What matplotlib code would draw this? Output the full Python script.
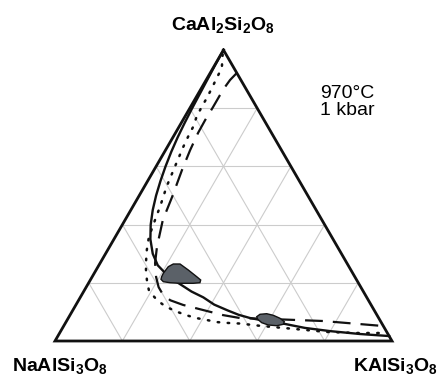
import numpy as np
import matplotlib
matplotlib.use("Agg")
import matplotlib.pyplot as plt

plt.rcParams['font.family'] = ['Liberation Sans', 'DejaVu Sans']
plt.rcParams['mathtext.fontset'] = 'custom'
plt.rcParams['mathtext.rm'] = 'Liberation Sans'
plt.rcParams['mathtext.bf'] = 'Liberation Sans:bold'

# ternary data: An (CaAl2Si2O8) and Or (KAlSi3O8) fractions, Ab = 1 - An - Or
solid_an = [1.00, 0.95, 0.90, 0.85, 0.80, 0.75, 0.70, 0.65, 0.60, 0.55, 0.50, 0.45, 0.40,
            0.35, 0.30, 0.26, 0.23, 0.20, 0.17, 0.15, 0.125, 0.105, 0.09, 0.079, 0.07, 0.062,
            0.053, 0.045, 0.034, 0.024, 0.017]
solid_or = [0.0, 0.001, 0.003, 0.005, 0.007, 0.010, 0.014, 0.020, 0.028, 0.038, 0.050, 0.065,
            0.084, 0.108, 0.140, 0.175, 0.215, 0.265, 0.320, 0.365, 0.41, 0.46, 0.50, 0.539,
            0.585, 0.637, 0.68, 0.719, 0.799, 0.893, 0.983]

dash_an = [0.921, 0.897, 0.873, 0.845, 0.804, 0.759, 0.715, 0.656, 0.588, 0.495, 0.416, 0.371,
           0.323, 0.268, 0.220, 0.185, 0.160, 0.140, 0.124, 0.1065, 0.089, 0.079, 0.074,
           0.0687, 0.0515]
dash_or = [0.079, 0.071, 0.068, 0.067, 0.067, 0.066, 0.067, 0.073, 0.083, 0.100, 0.112, 0.126,
           0.141, 0.163, 0.190, 0.215, 0.240, 0.272, 0.318, 0.386, 0.454, 0.509, 0.637,
           0.761, 0.948]

dot_an = [0.985, 0.938, 0.904, 0.869, 0.835, 0.804, 0.770, 0.735, 0.701, 0.668, 0.601, 0.530,
          0.4615, 0.426, 0.357, 0.313, 0.271, 0.244, 0.206, 0.172, 0.141, 0.120, 0.103, 0.089,
          0.079, 0.072, 0.065, 0.062, 0.060, 0.0515, 0.045, 0.031, 0.0275, 0.0275]
dot_or = [0.005, 0.026, 0.028, 0.031, 0.033, 0.033, 0.035, 0.042, 0.044, 0.047, 0.056, 0.066,
          0.081, 0.087, 0.100, 0.116, 0.1345, 0.148, 0.170, 0.193, 0.232, 0.266, 0.305, 0.344,
          0.379, 0.415, 0.448, 0.482, 0.519, 0.588, 0.654, 0.792, 0.885, 0.951]

blob1_an = [0.221, 0.2326, 0.2553, 0.2646, 0.2646, 0.244, 0.221, 0.2096, 0.2003, 0.1983,
            0.1983, 0.2003, 0.2038, 0.212]
blob1_or = [0.206, 0.205, 0.2085, 0.2187, 0.2387, 0.2735, 0.310, 0.3275, 0.330, 0.311,
            0.2717, 0.241, 0.2195, 0.2085]

blob2_an = [0.0835, 0.0918, 0.0938, 0.0883, 0.078, 0.0663, 0.0574, 0.0526, 0.055, 0.0629, 0.0746]
blob2_or = [0.5568, 0.5624, 0.5813, 0.6037, 0.6287, 0.6473, 0.6487, 0.6316, 0.6055, 0.582, 0.5642]

grid_steps = [0.2, 0.4, 0.6, 0.8]

H = np.sqrt(3) / 2


def to_xy(an, orr):
    an = np.asarray(an, dtype=float)
    orr = np.asarray(orr, dtype=float)
    return orr + an / 2, an * H


fig = plt.figure(figsize=(4.39, 3.81), dpi=100)
ax = fig.add_axes([55 / 439, 40 / 381, 337 / 439, 291 / 381])
ax.set_xlim(0, 1)
ax.set_ylim(0, H)
ax.axis('off')

# grid
gc = '#cccccc'
for t in grid_steps:
    x, y = to_xy([t, t], [0, 1 - t])
    ax.plot(x, y, color=gc, lw=0.8, zorder=1)
    x, y = to_xy([0, 1 - t], [t, t])
    ax.plot(x, y, color=gc, lw=0.8, zorder=1)
    x, y = to_xy([0, 1 - t], [1 - t, 0])
    ax.plot(x, y, color=gc, lw=0.8, zorder=1)

# curves
x, y = to_xy(solid_an, solid_or)
ax.plot(x, y, color='#111111', lw=1.7, zorder=3, clip_on=False, solid_joinstyle='round')
x, y = to_xy(dash_an, dash_or)
ax.plot(x, y, color='#111111', lw=1.6, dashes=(8, 4.5), zorder=3, clip_on=False)
x, y = to_xy(dot_an, dot_or)
ax.plot(x, y, color='#111111', lw=1.8, dashes=(0.6, 3.4), dash_capstyle='round', zorder=3,
        clip_on=False)

# phase fields
for ban, bor in [(blob1_an, blob1_or), (blob2_an, blob2_or)]:
    x, y = to_xy(ban, bor)
    ax.fill(x, y, facecolor='#5b6168', edgecolor='#111111', lw=1.0, zorder=4)

# triangle outline
x, y = to_xy([1, 0, 0, 1], [0, 0, 1, 0])
ax.plot(x, y, color='#111111', lw=2.0, zorder=5, clip_on=False, solid_joinstyle='miter')

# labels
fig.text(223 / 439, 1 - 25 / 381, r'$\mathbf{CaAl_2Si_2O_8}$', ha='center', va='center', fontsize=14)
fig.text(60 / 439, 1 - 366 / 381, r'$\mathbf{NaAlSi_3O_8}$', ha='center', va='center', fontsize=14)
fig.text(395 / 439, 1 - 366 / 381, r'$\mathbf{KAlSi_3O_8}$', ha='center', va='center', fontsize=14)
fig.text(347 / 439, 1 - 102 / 381, '970°C\n1 kbar', ha='center', va='center', fontsize=14,
         linespacing=1.05)

fig.savefig('out.png', dpi=100)
